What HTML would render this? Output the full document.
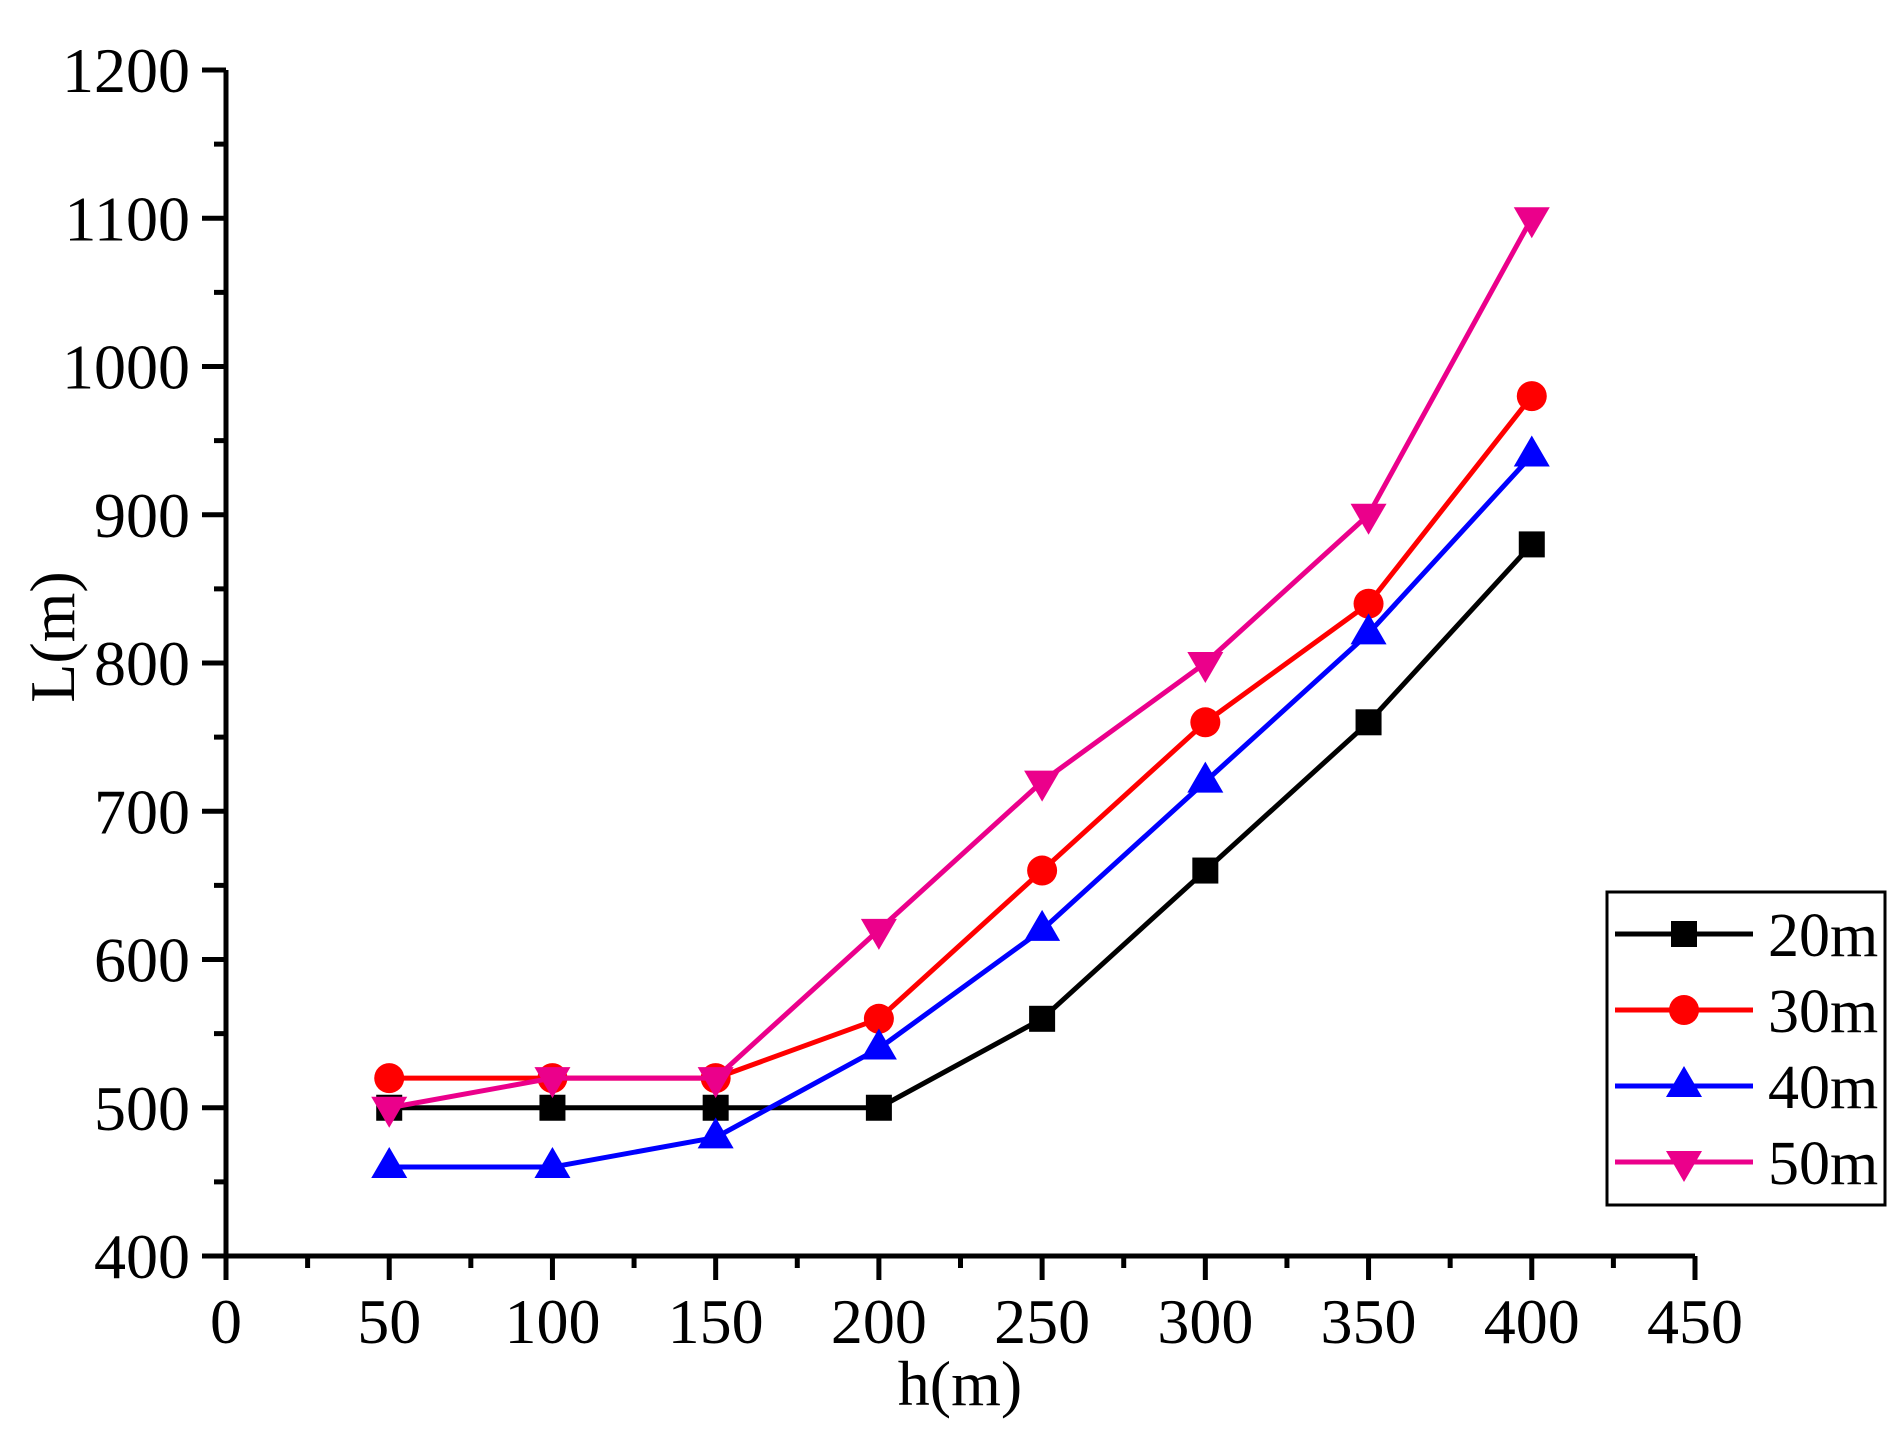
<!DOCTYPE html>
<html><head><meta charset="utf-8"><style>
html,body{margin:0;padding:0;background:#fff;}
svg{display:block;font-family:"Liberation Serif",serif;}
</style></head><body>
<svg id="chart" width="1903" height="1430" viewBox="0 0 1903 1430"></svg>
<script>
const xValues = [50,100,150,200,250,300,350,400];
const s20 = [500,500,500,500,560,660,760,880];
const s30 = [520,520,520,560,660,760,840,980];
const s40 = [460,460,480,540,620,720,820,940];
const s50 = [500,520,520,620,720,800,900,1100];
const seriesNames = ["20m","30m","40m","50m"];
const xTicks = [0,50,100,150,200,250,300,350,400,450];
const yTicks = [400,500,600,700,800,900,1000,1100,1200];

const NS="http://www.w3.org/2000/svg";
const svg=document.getElementById('chart');
const X0=226,X1=1695,Y0=1256,Y1=70;
function xs(v){return X0+(v-0)/(450-0)*(X1-X0);}
function ys(v){return Y0-(v-400)/(1200-400)*(Y0-Y1);}
function el(tag,attrs,parent){const e=document.createElementNS(NS,tag);for(const k in attrs)e.setAttribute(k,attrs[k]);(parent||svg).appendChild(e);return e;}

const ax=el('path',{d:`M${X0},${Y1} L${X0},${Y0} L${X1},${Y0}`,fill:'none',stroke:'#000','stroke-width':5});


xTicks.forEach((t,i)=>{
  const x=xs(t);
  const tk=el('line',{x1:x,y1:Y0,x2:x,y2:Y0+24,stroke:'#000','stroke-width':5});
  
  
  const lb=el('text',{x:x,y:1343,'font-size':64,'text-anchor':'middle'});
  lb.textContent=t;
  
  
  if(i<xTicks.length-1){
    const xm=xs(t+25);
    const mt=el('line',{x1:xm,y1:Y0,x2:xm,y2:Y0+12,stroke:'#000','stroke-width':5});
    
    
  }
});
yTicks.forEach((t,i)=>{
  const y=ys(t);
  const tk=el('line',{x1:X0-24,y1:y,x2:X0,y2:y,stroke:'#000','stroke-width':5});
  
  
  const lb=el('text',{x:190,y:y+22,'font-size':64,'text-anchor':'end'});
  lb.textContent=t;
  
  
  if(i<yTicks.length-1){
    const ym=ys(t+50);
    const mt=el('line',{x1:X0-12,y1:ym,x2:X0,y2:ym,stroke:'#000','stroke-width':5});
    
    
  }
});
const xt=el('text',{x:960,y:1405,'font-size':64,'text-anchor':'middle'});
xt.textContent='h(m)';


const yt=el('text',{x:0,y:0,'font-size':64,'text-anchor':'middle',transform:'translate(74,637) rotate(-90)'});
yt.textContent='L(m)';



function marker(kind,x,y,color,parent){
  let m;
  if(kind==='square') m=el('rect',{x:x-13,y:y-13,width:26,height:26,fill:color},parent);
  else if(kind==='circle') m=el('circle',{cx:x,cy:y,r:15,fill:color},parent);
  else if(kind==='up') m=el('polygon',{points:`${x},${y-20} ${x+18},${y+11} ${x-18},${y+11}`,fill:color},parent);
  else m=el('polygon',{points:`${x},${y+20} ${x+18},${y-11} ${x-18},${y-11}`,fill:color},parent);
  return m;
}
const all=[s20,s30,s40,s50];
const colors=['#000000','#ff0000','#0000ff','#eb008b'];
const kinds=['square','circle','up','down'];
all.forEach((s,si)=>{
  const g=el('g',{});
  
  
  const d=s.map((v,i)=>(i?'L':'M')+xs(xValues[i])+','+ys(v)).join(' ');
  const ln=el('path',{d:d,fill:'none',stroke:colors[si],'stroke-width':5,'stroke-linejoin':'round'},g);
  
  
  s.forEach((v,i)=>{
    const m=marker(kinds[si],xs(xValues[i]),ys(v),colors[si],g);
    
    
  });
});
const lg=el('g',{});


const box=el('rect',{x:1607,y:892,width:278,height:313,fill:'#fff',stroke:'#000','stroke-width':3},lg);


seriesNames.forEach((n,i)=>{
  const y=934+i*76;
  const g=el('g',{},lg);
  
  
  el('line',{x1:1615,y1:y,x2:1753,y2:y,stroke:colors[i],'stroke-width':5},g);
  marker(kinds[i],1684,y,colors[i],g);
  const t=el('text',{x:1768,y:y+22,'font-size':62},g);
  t.textContent=n;
});
</script>
</body></html>
